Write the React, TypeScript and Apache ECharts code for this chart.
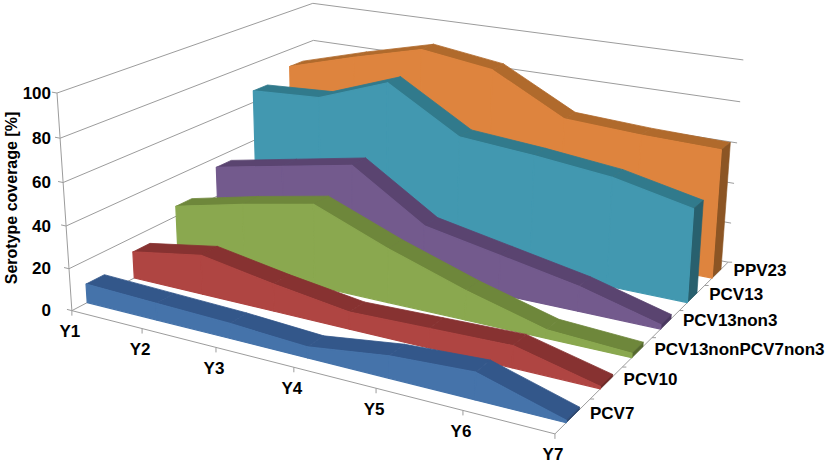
import React, { useEffect, useRef } from "react";
import * as echarts from "echarts";

// ---------- data ----------
const categories = ["Y1", "Y2", "Y3", "Y4", "Y5", "Y6", "Y7"];
const seriesNames = ["PCV7", "PCV10", "PCV13nonPCV7non3", "PCV13non3", "PCV13", "PPV23"];
const pcv7 = [9, 8, 7, 5, 10, 12, 1];
const pcv10 = [13, 19, 13, 8, 9, 10, 1];
const pcv13nonPCV7non3 = [25, 33, 40, 26, 14, 4, 2];
const pcv13non3 = [35, 42, 49, 26, 19, 12, 2];
const pcv13 = [66, 68, 81, 60, 57, 53, 45];
const ppv23 = [71, 81, 90, 85, 66, 64, 63];
const seriesValues = [pcv7, pcv10, pcv13nonPCV7non3, pcv13non3, pcv13, ppv23];
const valueTicks = [0, 20, 40, 60, 80, 100];
const yTitle = "Serotype coverage [%]";

// ---------- styles ----------
const frontColors = ["#4573AA", "#AF4542", "#8AA84F", "#735A8D", "#4298B0", "#DE843E"];
const topColors = ["#33578A", "#873231", "#6E873B", "#5A4470", "#317A8C", "#B06A2C"];
const sideColors = ["#2A4670", "#6E2624", "#55692E", "#4A3760", "#28606E", "#8C5524"];
const gridColor = "#9C9C9C";
const FONT = "'Liberation Sans', Arial, sans-serif";
const D_FRONT = 0.31;
const D_BACK = 0.69;

// ---------- layout: perspective calibration of the plot box (u, depth, w) -> pixel ----------
const CALIB: number[][] = [
  [0, 0, 0, 72, 310], [1 / 6, 0, 0, 143, 330], [2 / 6, 0, 0, 216, 349], [3 / 6, 0, 0, 293, 368],
  [4 / 6, 0, 0, 376, 389], [5 / 6, 0, 0, 463, 411], [1, 0, 0, 555, 432],
  [0, 0, 0.2, 69, 267], [0, 0, 0.4, 66, 225], [0, 0, 0.6, 63, 182], [0, 0, 0.8, 60, 138], [0, 0, 1, 57, 94],
  [0, 1, 1, 313, 3], [0, 1, 0.8, 313, 41],
  [1, 1, 1, 743, 60], [1, 1, 0.8, 741, 102], [1, 1, 0.6, 737, 143], [1, 1, 0.4, 734, 183],
  [1, 1, 0.2, 731, 223], [1, 1, 0, 728, 262],
];

function solveProjection(pts: number[][]): number[] {
  const n = 11;
  const A = Array.from({ length: n }, () => new Array(n).fill(0));
  const B = new Array(n).fill(0);
  const add = (row: number[], rhs: number) => {
    for (let i = 0; i < n; i++) {
      B[i] += row[i] * rhs;
      for (let j = 0; j < n; j++) A[i][j] += row[i] * row[j];
    }
  };
  for (const [X, Y, Z, px, py] of pts) {
    const x = px / 100, y = py / 100;
    add([X, Y, Z, 1, 0, 0, 0, 0, -x * X, -x * Y, -x * Z], x);
    add([0, 0, 0, 0, X, Y, Z, 1, -y * X, -y * Y, -y * Z], y);
  }
  for (let c = 0; c < n; c++) {
    let p = c;
    for (let r = c + 1; r < n; r++) if (Math.abs(A[r][c]) > Math.abs(A[p][c])) p = r;
    [A[c], A[p]] = [A[p], A[c]];
    [B[c], B[p]] = [B[p], B[c]];
    for (let r = 0; r < n; r++) {
      if (r === c) continue;
      const f = A[r][c] / A[c][c];
      for (let j = c; j < n; j++) A[r][j] -= f * A[c][j];
      B[r] -= f * B[c];
    }
  }
  return B.map((b, i) => b / A[i][i]);
}
const PM = solveProjection(CALIB);
function proj(u: number, d: number, w: number): number[] {
  const den = PM[8] * u + PM[9] * d + PM[10] * w + 1;
  return [
    ((PM[0] * u + PM[1] * d + PM[2] * w + PM[3]) / den) * 100,
    ((PM[4] * u + PM[5] * d + PM[6] * w + PM[7]) / den) * 100,
  ];
}

function norm(cs: any, pt: number[]) {
  return [(pt[0] - cs.x) / cs.width, (cs.y + cs.height - pt[1]) / cs.height];
}

const line = (a: number[], b: number[], color = gridColor, z2 = 0) => ({
  type: "line",
  z2,
  shape: { x1: a[0], y1: a[1], x2: b[0], y2: b[1] },
  style: { stroke: color, lineWidth: 1 },
});
const poly = (pts: number[][], fill: string, z2: number, sw = 1.2) => ({
  type: "polygon",
  z2,
  shape: { points: pts },
  style: { fill, stroke: fill, lineWidth: sw, lineJoin: "round" },
});
const text = (x: number, y: number, s: string, align: string, size = 16) => ({
  type: "text",
  x,
  y,
  z2: 50,
  style: {
    text: s,
    fill: "#000",
    fontSize: size,
    fontWeight: "bold",
    fontFamily: FONT,
    align,
    verticalAlign: "middle",
  },
});

function slabSeries(i: number) {
  const vals = seriesValues[i];
  return {
    type: "custom",
    name: seriesNames[i],
    coordinateSystem: "cartesian2d",
    z: 20 - i,
    silent: true,
    encode: { x: 0, y: 1 },
    data: vals.slice(0, -1).map((v, k) => [k, v, vals[k + 1]]),
    renderItem: (params: any, api: any) => {
      const cs = params.coordSys;
      const k = api.value(0);
      const [ua, wa] = norm(cs, api.coord([k, api.value(1)]));
      const [ub, wb] = norm(cs, api.coord([k + 1, api.value(2)]));
      const df = (i + D_FRONT) / 6;
      const db = (i + D_BACK) / 6;
      const children: any[] = [];
      children.push(
        poly([proj(ua, df, wa), proj(ub, df, wb), proj(ub, db, wb), proj(ua, db, wa)], topColors[i], 1, 0.8)
      );
      if (k === categories.length - 2) {
        children.push(
          poly([proj(ub, df, 0), proj(ub, df, wb), proj(ub, db, wb), proj(ub, db, 0)], sideColors[i], 2, 0.6)
        );
      }
      children.push(
        poly([proj(ua, df, 0), proj(ua, df, wa), proj(ub, df, wb), proj(ub, df, 0)], frontColors[i], 3, 1.2)
      );
      return { type: "group", children };
    },
  };
}

function buildOption(): any {
  const slabs = [5, 4, 3, 2, 1, 0].map((i) => slabSeries(i));
  return {
    animation: false,
    backgroundColor: "#ffffff",
    grid: { left: 0, right: 0, top: 0, bottom: 0, show: false },
    xAxis: { type: "category", data: categories, boundaryGap: false, show: false },
    yAxis: { type: "value", min: 0, max: 100, interval: 20, show: false },
    graphic: [
      {
        type: "text",
        x: 11,
        y: 198,
        rotation: Math.PI / 2,
        style: {
          text: yTitle,
          fill: "#000",
          fontSize: 16,
          fontWeight: "bold",
          fontFamily: FONT,
          align: "center",
          verticalAlign: "middle",
        },
      },
    ],
    series: [
      {
        type: "custom",
        name: "walls",
        coordinateSystem: "cartesian2d",
        z: 1,
        silent: true,
        encode: { x: 0, y: 1 },
        data: valueTicks.map((v) => [0, v]),
        renderItem: (params: any, api: any) => {
          const cs = params.coordSys;
          const [, w] = norm(cs, api.coord([0, api.value(1)]));
          const p0 = proj(0, 0, w), p1 = proj(0, 1, w), p2 = proj(1, 1, w), pt = proj(-0.012, 0, w);
          return {
            type: "group",
            children: [
              line(p0, p1),
              line(p1, p2),
              line(pt, p0),
              text(51, p0[1], String(api.value(1)), "right", 17),
            ],
          };
        },
      },
      {
        type: "custom",
        name: "categoryAxis",
        coordinateSystem: "cartesian2d",
        z: 2,
        silent: true,
        encode: { x: 0, y: 1 },
        data: categories.map((_, k) => [k, 0]),
        renderItem: (params: any, api: any) => {
          const cs = params.coordSys;
          const k = api.value(0);
          const [u] = norm(cs, api.coord([k, 0]));
          const p = proj(u, 0, 0);
          const children: any[] = [
            line(p, [p[0], p[1] + 5]),
            text(p[0] - 2, p[1] + 21, categories[k], "center", 17),
          ];
          if (params.dataIndex === 0) {
            children.push(line(proj(0, 0, 0), proj(1, 0, 0)));
            children.push(line(proj(0, 0, 0), proj(0, 0, 1)));
            children.push(line(proj(1, 0, 0), proj(1, 1, 0)));
          }
          return { type: "group", children };
        },
      },
      ...slabs,
      {
        type: "custom",
        name: "depthAxis",
        coordinateSystem: "cartesian2d",
        z: 30,
        silent: true,
        encode: { x: 0, y: 1 },
        data: seriesNames.map(() => [categories.length - 1, 0]),
        renderItem: (params: any) => {
          const i = params.dataIndex;
          const c = proj(1, (i + 0.5) / 6, 0);
          const b = proj(1, (i + 1) / 6, 0);
          return {
            type: "group",
            children: [
              line(b, [b[0] + 4, b[1]]),
              text(c[0] + 17, c[1] - 3, seriesNames[i], "left", 17),
            ],
          };
        },
      },
    ],
  };
}

export default function App() {
  const ref = useRef<HTMLDivElement>(null);
  useEffect(() => {
    if (!ref.current) return;
    const chart = echarts.init(ref.current, undefined, { renderer: "svg" });
    chart.setOption(buildOption());
    return () => chart.dispose();
  }, []);
  return (
    <div
      ref={ref}
      style={{ position: "absolute", left: 0, top: 0, width: 829, height: 463, background: "#fff" }}
    />
  );
}
